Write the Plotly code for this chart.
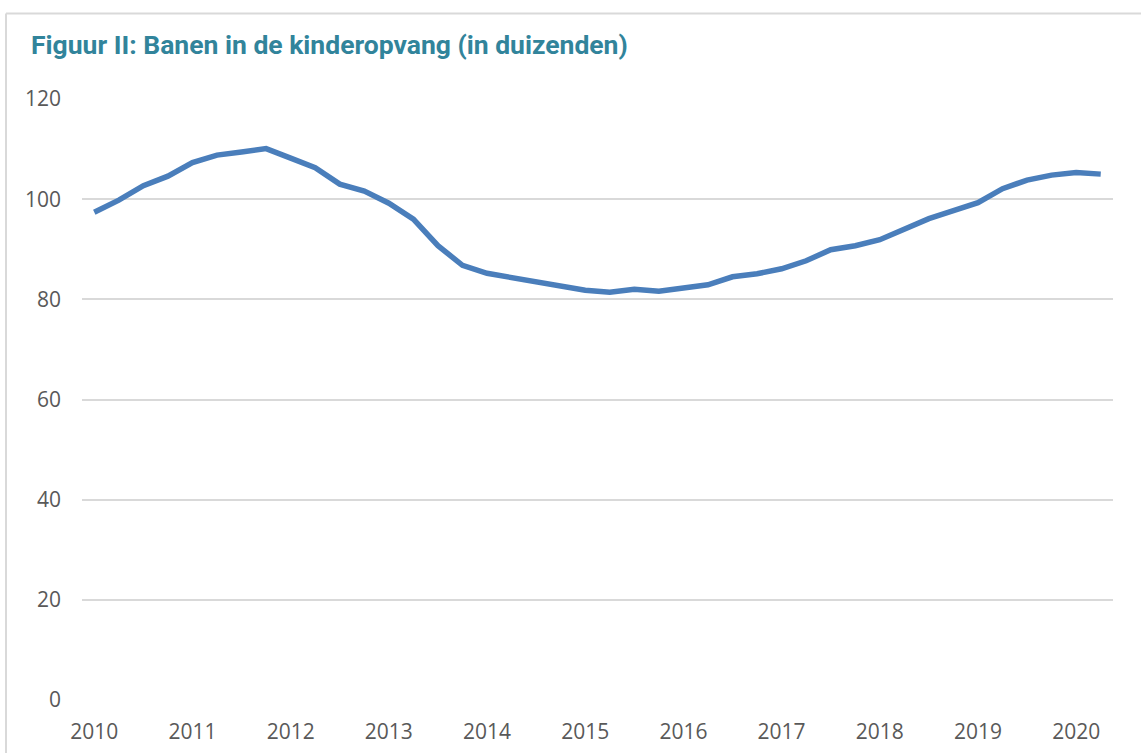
import plotly.graph_objects as go

# Quarterly data, 2010 Q1 .. 2020 Q2 (jobs in childcare, thousands)
years = [str(y) for y in range(2010, 2021)]
values = [
    97.4, 99.8, 102.7, 104.6, 107.3, 108.8, 109.4, 110.1,
    108.2, 106.3, 103.0, 101.6, 99.2, 96.0, 90.7, 86.8,
    85.2, 84.3, 83.5, 82.7, 81.8, 81.4, 82.0, 81.6,
    82.2, 82.9, 84.5, 85.1, 86.1, 87.7, 89.9, 90.7,
    91.9, 93.9, 96.1, 97.7, 99.3, 102.1, 103.8, 104.8,
    105.3, 105.0,
]
quarter_index = list(range(len(values)))
year_ticks = [i * 4 for i in range(len(years))]
y_ticks = [0, 20, 40, 60, 80, 100, 120]

title_text = "Figuur II: Banen in de kinderopvang (in duizenden)"

fig = go.Figure()
fig.add_trace(go.Scatter(
    x=quarter_index, y=values, mode="lines",
    line=dict(color="#4A7EBB", width=5.5),
    hoverinfo="skip", showlegend=False,
))

W, H = 1141, 753
ml, mr, mt, mb = 82, 28, 99, 53
pw = W - ml - mr
ph = H - mt - mb

def px_to_paper_x(px):
    return (px - ml) / pw

def px_to_paper_y(py):
    return 1 + (mt - py) / ph

fig.update_layout(
    width=W, height=H,
    margin=dict(l=ml, r=mr, t=mt, b=mb, pad=0),
    paper_bgcolor="white", plot_bgcolor="white",
    font=dict(family="Open Sans", size=21, color="#595959"),
    xaxis=dict(
        range=[-0.5, len(values) - 0.5],
        tickmode="array", tickvals=year_ticks, ticktext=years,
        showgrid=False, zeroline=False, showline=False, ticks="",
        ticklabelstandoff=17, fixedrange=True, automargin=False,
    ),
    yaxis=dict(
        range=[0, 120],
        tickmode="array", tickvals=y_ticks,
        showgrid=True, gridcolor="#D9D9D9", gridwidth=1.5,
        zeroline=False, showline=False, ticks="",
        ticklabelstandoff=20, fixedrange=True, automargin=False,
    ),
    annotations=[dict(
        text="<b>" + title_text + "</b>",
        xref="paper", yref="paper",
        x=px_to_paper_x(29), y=px_to_paper_y(44),
        xanchor="left", yanchor="middle", showarrow=False,
        font=dict(family="Roboto", size=26.5, color="#31849B"),
    )],
    shapes=[
        dict(type="line", xref="paper", yref="paper",
             x0=px_to_paper_x(6), x1=px_to_paper_x(1160),
             y0=px_to_paper_y(13.5), y1=px_to_paper_y(13.5),
             line=dict(color="#D9D9D9", width=2)),
        dict(type="line", xref="paper", yref="paper",
             x0=px_to_paper_x(6), x1=px_to_paper_x(6),
             y0=px_to_paper_y(13.5), y1=px_to_paper_y(780),
             line=dict(color="#D9D9D9", width=2)),
    ],
)

fig.write_html("out.html")
